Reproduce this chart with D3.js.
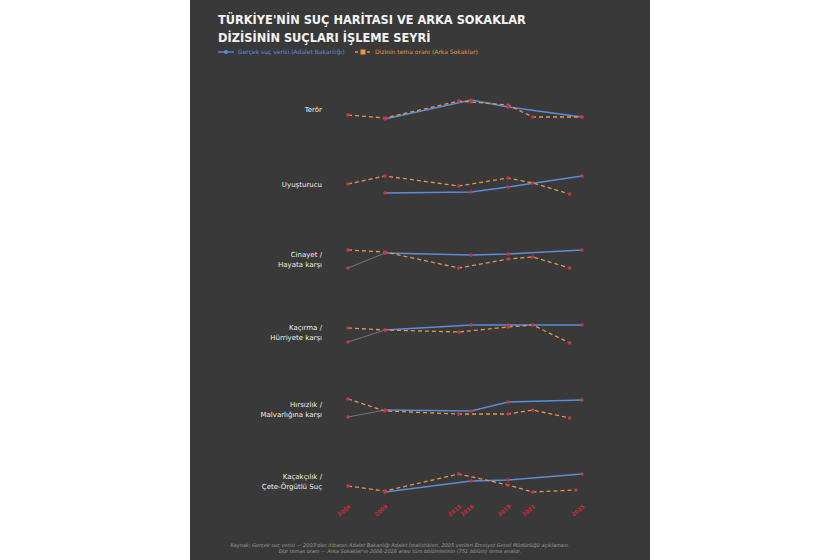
<!DOCTYPE html>
<html><head><meta charset="utf-8">
<script src="https://cdn.jsdelivr.net/npm/d3@7"></script>
<style>body{margin:0;background:#fff;font-family:"DejaVu Sans",sans-serif}</style>
</head><body><svg id="c" width="840" height="560"></svg>
<script>
var tickYears = [2006, 2009, 2015, 2016, 2019, 2021, 2025];
var crimes = ["Terör", "Uyuşturucu", "Cinayet /\nHayata karşı", "Kaçırma /\nHürriyete karşı", "Hırsızlık /\nMalvarlığına karşı", "Kaçakçılık /\nÇete-Örgütlü Suç"];
var realYears = [
  [2009, 2016, 2019, 2025],
  [2009, 2016, 2019, 2025],
  [2006, 2009, 2016, 2019, 2025],
  [2006, 2009, 2016, 2019, 2025],
  [2006, 2009, 2016, 2019, 2025],
  [2009, 2016, 2019, 2025]
];
var realValues = [
  [-9, 10, 3, -7],
  [-8, -7, -2, 9],
  [-8, 7, 5, 6, 10],
  [-9, 3, 8, 8, 8],
  [-7, 0, -1, 8, 10],
  [-10, 1, 2, 8]
];
var showYears = [
  [2006, 2009, 2015, 2016, 2019, 2021, 2025],
  [2006, 2009, 2015, 2019, 2021, 2024],
  [2006, 2009, 2015, 2019, 2021, 2024],
  [2006, 2009, 2015, 2019, 2021, 2024],
  [2006, 2009, 2015, 2019, 2021, 2024],
  [2006, 2009, 2015, 2019, 2021, 2024.5]
];
var showValues = [
  [-5, -8, 9, 8, 5, -7, -7],
  [1, 9, -1, 7, 2, -9],
  [10, 8, -8, 1, 3, -8],
  [5, 3, 1, 6, 8, -10],
  [11, -1, -4, -4, 0, -8],
  [-4, -9, 8, -3, -10, -8]
];
var rowCenters = [110, 185, 260, 333, 410, 482];

var svg = d3.select('#c');
svg.append('rect').attr('x', 190).attr('y', 0).attr('width', 460).attr('height', 560).attr('fill', '#393939');

svg.append('text').attr('x', 218).attr('y', 24).attr('fill', '#f2f2f2').attr('font-size', 11.4).attr('font-weight', 'bold').text("TÜRKİYE'NİN SUÇ HARİTASI VE ARKA SOKAKLAR");
svg.append('text').attr('x', 218).attr('y', 42).attr('fill', '#f2f2f2').attr('font-size', 11.4).attr('font-weight', 'bold').text("DİZİSİNİN SUÇLARI İŞLEME SEYRİ");

// legend
svg.append('line').attr('x1', 218).attr('x2', 234).attr('y1', 52).attr('y2', 52).attr('stroke', '#5b8ddb').attr('stroke-width', 1.3);
svg.append('circle').attr('cx', 226).attr('cy', 52).attr('r', 2).attr('fill', '#5b8ddb');
svg.append('text').attr('x', 238).attr('y', 54).attr('fill', '#5b8ddb').attr('font-size', 6).text('Gerçek suç verisi (Adalet Bakanlığı)');
svg.append('line').attr('x1', 355).attr('x2', 371).attr('y1', 52).attr('y2', 52).attr('stroke', '#e8954a').attr('stroke-width', 1.3).attr('stroke-dasharray', '3,3');
svg.append('rect').attr('x', 360.5).attr('y', 49.5).attr('width', 5).attr('height', 5).attr('fill', '#e8954a');
svg.append('text').attr('x', 375).attr('y', 54).attr('fill', '#e8954a').attr('font-size', 6).text('Dizinin tema oranı (Arka Sokaklar)');

var x = d3.scaleLinear().domain([2006, 2025]).range([348, 582]);

crimes.forEach(function (name, i) {
  var c = rowCenters[i];
  var y = d3.scaleLinear().domain([-25, 25]).range([c + 25, c - 25]);
  var g = svg.append('g');
  var lines = name.split('\n');
  var t = g.append('text').attr('x', 322).attr('text-anchor', 'end').attr('fill', '#eeeeee').attr('font-size', 7);
  lines.forEach(function (l, k) {
    t.append('tspan').attr('x', 322).attr('y', c + 2 + (k - (lines.length - 1) / 2) * 10).text(l);
  });

  var real = realYears[i].map(function (yr, k) { return [yr, realValues[i][k]]; });
  var show = showYears[i].map(function (yr, k) { return [yr, showValues[i][k]]; });
  var line = d3.line().x(function (d) { return x(d[0]); }).y(function (d) { return y(d[1]); });

  var early = real.filter(function (d) { return d[0] <= 2009; });
  var late = real.filter(function (d) { return d[0] >= 2009; });
  if (early.length > 1) g.append('path').attr('d', line(early)).attr('fill', 'none').attr('stroke', '#777').attr('stroke-width', 1);
  g.append('path').attr('d', line(late)).attr('fill', 'none').attr('stroke', '#5b8ddb').attr('stroke-width', 1.3);
  g.append('path').attr('d', line(show)).attr('fill', 'none').attr('stroke', '#e8954a').attr('stroke-width', 1.3).attr('stroke-dasharray', '4,3');

  g.selectAll('.rp').data(real).enter().append('circle').attr('cx', function (d) { return x(d[0]); }).attr('cy', function (d) { return y(d[1]); }).attr('r', 1.8).attr('fill', '#c0394a');
  g.selectAll('.sp').data(show).enter().append('circle').attr('cx', function (d) { return x(d[0]); }).attr('cy', function (d) { return y(d[1]); }).attr('r', 1.8).attr('fill', '#c0394a');
});

// x ticks
svg.selectAll('.tk').data(tickYears).enter().append('text')
  .attr('transform', function (d) { return 'translate(' + (x(d) + 3) + ',507) rotate(-40)'; })
  .attr('text-anchor', 'end').attr('fill', '#d0283c').attr('font-size', 5.5).attr('font-weight', 'bold').text(function (d) { return d; });

svg.append('text').attr('x', 400).attr('y', 547).attr('text-anchor', 'middle').attr('fill', '#9a9a9a').attr('font-size', 5).attr('font-style', 'italic')
  .text("Kaynak: Gerçek suç verisi — 2003'dan itibaren Adalet Bakanlığı Adalet İstatistikleri, 2005 verileri Emniyet Genel Müdürlüğü açıklaması.");
svg.append('text').attr('x', 400).attr('y', 553).attr('text-anchor', 'middle').attr('fill', '#9a9a9a').attr('font-size', 5).attr('font-style', 'italic')
  .text("Dizi temas oranı — Arka Sokaklar'ın 2006-2026 arası tüm bölümlerinin (751 bölüm) tema analizi.");
</script></body></html>
